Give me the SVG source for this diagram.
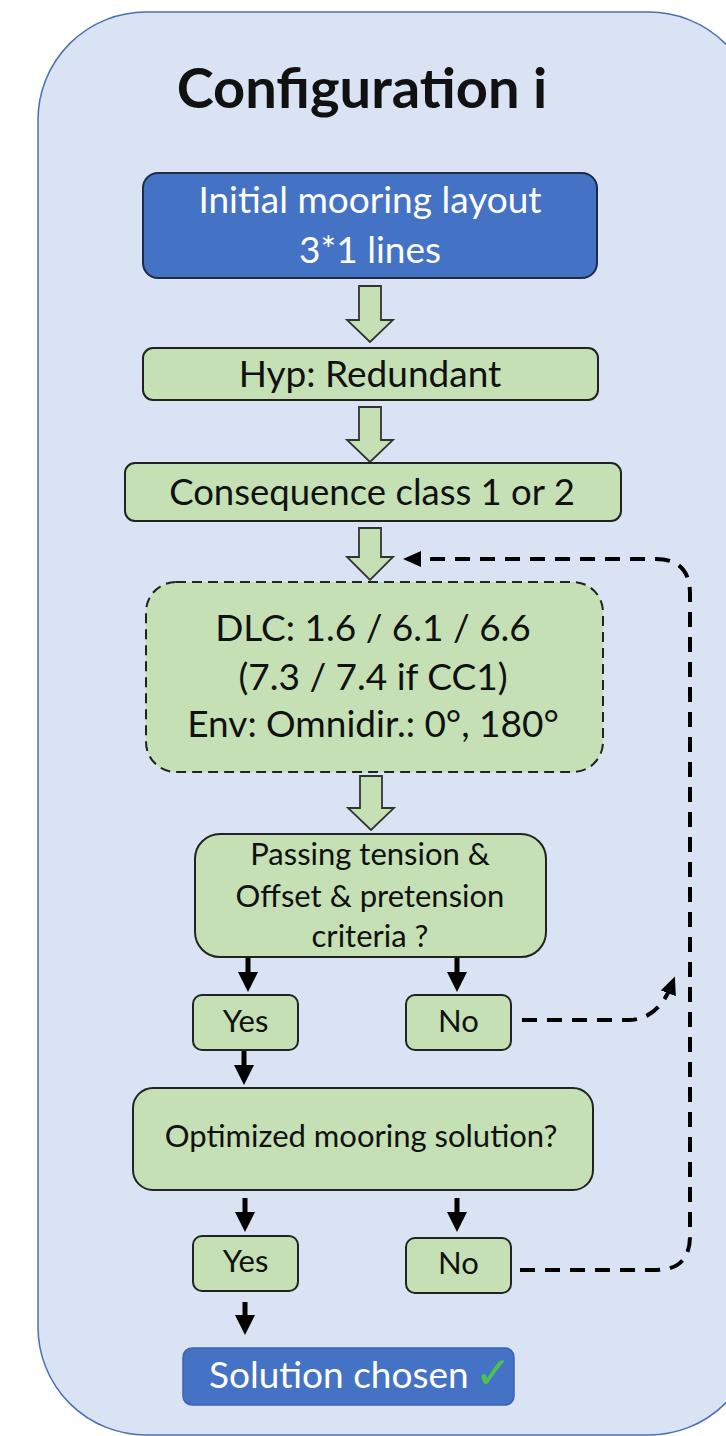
<svg xmlns="http://www.w3.org/2000/svg" width="726" height="1436" viewBox="0 0 726 1436">
<style>
.t{font-family:"Lato","Carlito","Liberation Sans",sans-serif;text-anchor:middle;fill:#111}
.w{fill:#ffffff}
.g{fill:#C5E0B4;stroke:#222;stroke-width:2}
.bl{fill:#4472C4}
.blk{stroke:#000;stroke-width:5;fill:none}
.dash{stroke:#000;stroke-width:4;fill:none;stroke-dasharray:15 10}
.ba{fill:#C5E0B4;stroke:#333;stroke-width:1.8}
</style>
<defs>
<marker id="ah" viewBox="0 0 20 20" refX="10" refY="10" markerWidth="20" markerHeight="20" markerUnits="userSpaceOnUse" orient="auto">
<path d="M0,0 L20,10 L0,20 z" fill="#000"/>
</marker>
<marker id="dh" viewBox="0 0 18 16" refX="10" refY="8" markerWidth="18" markerHeight="16" markerUnits="userSpaceOnUse" orient="auto">
<path d="M0,0 L18,8 L0,16 z" fill="#000"/>
</marker>
</defs>
<g id="container">
<rect x="38" y="12" width="719" height="1423" rx="108" ry="108" fill="#DAE3F3" stroke="#4A6FB5" stroke-width="1.5"/>
<text class="t" x="362" y="108" font-size="56" font-weight="bold" fill="#000">Configuration i</text>
</g>
<g id="connectors">
<path class="ba" d="M359,286 H381 V320 H393 L370,342 L347,320 H359 Z"/>
<path class="ba" d="M359,407 H381 V440 H393 L370,462 L347,440 H359 Z"/>
<path class="ba" d="M359,528 H381 V557 H393 L370,580 L347,557 H359 Z"/>
<path class="ba" d="M360,776 H382 V808 H394 L371,830 L348,808 H360 Z"/>
<line class="blk" x1="248" y1="958" x2="248" y2="982" marker-end="url(#ah)"/>
<line class="blk" x1="457" y1="958" x2="457" y2="982" marker-end="url(#ah)"/>
<line class="blk" x1="244" y1="1051" x2="244" y2="1075" marker-end="url(#ah)"/>
<line class="blk" x1="245" y1="1198" x2="245" y2="1222" marker-end="url(#ah)"/>
<line class="blk" x1="457" y1="1198" x2="457" y2="1222" marker-end="url(#ah)"/>
<line class="blk" x1="245" y1="1302" x2="245" y2="1325" marker-end="url(#ah)"/>
<path class="dash" d="M522,1020 H628 Q658,1020 672,984" marker-end="url(#dh)"/>
<path class="dash" d="M520,1270 H656 Q690,1270 690,1236 V594 Q690,559 656,559 H411" marker-end="url(#dh)"/>
</g>
<g id="n1">
<rect x="143" y="173" width="454" height="105" rx="15" class="bl" stroke="#1f2a44" stroke-width="2"/>
<text class="t w" x="370" y="213" font-size="37">Initial mooring layout</text>
<text class="t w" x="370" y="263" font-size="37">3*1 lines</text>
</g>
<g id="n2">
<rect x="143" y="348" width="455" height="52" rx="10" class="g"/>
<text class="t" x="370" y="387" font-size="37">Hyp: Redundant</text>
</g>
<g id="n3">
<rect x="125" y="463" width="496" height="58" rx="10" class="g"/>
<text class="t" x="372" y="505" font-size="36.5">Consequence class 1 or 2</text>
</g>
<g id="n4">
<rect x="146" y="582" width="457" height="190" rx="30" class="g" stroke-dasharray="10 6"/>
<text class="t" x="373" y="641" font-size="37">DLC: 1.6 / 6.1 / 6.6</text>
<text class="t" x="373" y="690" font-size="37">(7.3 / 7.4 if CC1)</text>
<text class="t" x="373" y="737" font-size="37">Env: Omnidir.: 0°, 180°</text>
</g>
<g id="n5">
<rect x="195" y="834" width="351" height="123" rx="25" class="g"/>
<text class="t" x="370" y="865" font-size="31">Passing tension &amp;</text>
<text class="t" x="370" y="907" font-size="31">Offset &amp; pretension</text>
<text class="t" x="370" y="947" font-size="31">criteria ?</text>
</g>
<g id="yes1">
<rect x="193" y="995" width="105" height="55" rx="9" class="g"/>
<text class="t" x="245.5" y="1032" font-size="31">Yes</text>
</g>
<g id="no1">
<rect x="406" y="995" width="105" height="55" rx="9" class="g"/>
<text class="t" x="458.5" y="1032" font-size="31">No</text>
</g>
<g id="n6">
<rect x="133" y="1088" width="460" height="102" rx="20" class="g"/>
<text class="t" x="361" y="1147" font-size="31">Optimized mooring solution?</text>
</g>
<g id="yes2">
<rect x="193" y="1236" width="105" height="55" rx="9" class="g"/>
<text class="t" x="245.5" y="1272" font-size="31">Yes</text>
</g>
<g id="no2">
<rect x="406" y="1238" width="105" height="55" rx="9" class="g"/>
<text class="t" x="458.5" y="1274" font-size="31">No</text>
</g>
<g id="n7">
<rect x="183" y="1348" width="331" height="57" rx="9" class="bl" stroke="#3A64B0" stroke-width="1.5"/>
<text class="t w" x="209" y="1388" font-size="37" style="text-anchor:start">Solution chosen<tspan dx="6" font-family="DejaVu Sans" font-weight="bold" fill="#4CC34C" font-size="44">✓</tspan></text>
</g>
</svg>
